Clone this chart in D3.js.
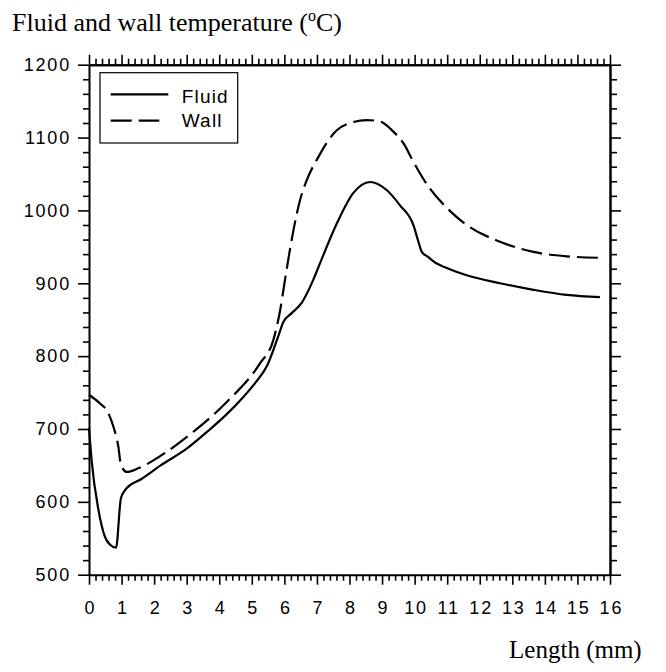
<!DOCTYPE html>
<html>
<head>
<meta charset="utf-8">
<script src="https://cdn.jsdelivr.net/npm/d3@7"></script>
<style>
  body { margin: 0; background: #fff; }
  svg { display: block; }
  .tick text { font-family: "Liberation Sans", Arial, sans-serif; font-size: 18px; letter-spacing: 1.8px; fill: #000; }
</style>
</head>
<body>
<div id="chart"></div>
<script>
// values
var fluidX = [0, 0.08, 0.29, 0.49, 0.65, 0.83, 0.98, 1.16, 1.6, 2.2, 3.0, 3.7, 4.2, 4.74, 5.1, 5.46,
    5.81, 5.97, 6.2, 6.53, 6.89, 7.09, 7.61, 8.12, 8.63, 9.14, 9.55, 9.96, 10.11, 10.22, 10.42,
    10.58, 11.1, 11.6, 12.62, 13.65, 14.67, 15.69];
var fluidY = [701, 657, 589, 552, 541, 537, 605, 619, 631, 650, 673, 699, 719, 744, 763, 786,
    827, 847, 858, 873, 905, 927, 982, 1024, 1039, 1028, 1007, 980, 958, 943, 936,
    930, 919, 911, 900, 891, 884, 881];

var wallX = [0, 0.34, 0.54, 0.75, 0.9, 0.98, 1.16, 1.51, 2.33, 3.2, 4.23, 5.25, 5.66, 5.87, 6.02,
    6.17, 6.48, 6.69, 6.99, 7.61, 8.02, 8.53, 8.94, 9.35, 9.66, 9.96, 10.42, 11.0, 11.6, 12.62,
    13.65, 14.67, 15.69];
var wallY = [747, 735, 726, 703, 676, 651, 641, 646, 667, 696, 737, 790, 822, 863, 905,
    946, 1014, 1042, 1069, 1110, 1120, 1124, 1122, 1108, 1092, 1067, 1033, 1003, 980, 957,
    943, 937, 935];

var xTicks = d3.range(0, 17, 1);
var yTicks = d3.range(500, 1300, 100);
var seriesNames = ["Fluid", "Wall"];

var width = 666;
var height = 672;

var svg = d3.select("#chart")
    .append("svg")
    .attr("width", width)
    .attr("height", height);

var x = d3.scaleLinear().domain([0, 16]).range([89, 610]);
var y = d3.scaleLinear().domain([500, 1200]).range([574.7, 64.7]);

var xMinor = d3.range(0, 16.001, 0.2).filter(function(d) { return Math.abs(d - Math.round(d)) > 1e-6 });
var yMinor = d3.range(500, 1201, 20).filter(function(d) { return d % 100 !== 0 });

function styleAxis(g) {
    g.select(".domain").attr("stroke", "#000").attr("stroke-width", 2);
    g.selectAll(".tick line").attr("stroke", "#000").attr("stroke-width", 1.6);
}

// bottom
svg.append("g").attr("transform", "translate(0," + y(500) + ")")
    .call(d3.axisBottom(x).tickValues(xMinor).tickSize(6).tickSizeOuter(0).tickFormat(""))
    .call(styleAxis);
svg.append("g").attr("transform", "translate(0," + y(500) + ")")
    .call(d3.axisBottom(x).tickValues(xTicks).tickSize(10).tickSizeOuter(0).tickPadding(17).tickFormat(d3.format("d")))
    .call(styleAxis)
    .call(function(g) { g.select(".domain").remove() })
    .selectAll("text").attr("dy", "0.71em").attr("dx", 0.9);

// top
svg.append("g").attr("transform", "translate(0," + y(1200) + ")")
    .call(d3.axisTop(x).tickValues(xMinor).tickSize(6).tickSizeOuter(0).tickFormat(""))
    .call(styleAxis);
svg.append("g").attr("transform", "translate(0," + y(1200) + ")")
    .call(d3.axisTop(x).tickValues(xTicks).tickSize(10).tickSizeOuter(0).tickFormat(""))
    .call(styleAxis);

// left
svg.append("g").attr("transform", "translate(" + x(0) + ",0)")
    .call(d3.axisLeft(y).tickValues(yMinor).tickSize(6).tickSizeOuter(0).tickFormat(""))
    .call(styleAxis);
svg.append("g").attr("transform", "translate(" + x(0) + ",0)")
    .call(d3.axisLeft(y).tickValues(yTicks).tickSize(11).tickSizeOuter(0).tickPadding(7).tickFormat(d3.format("d")))
    .call(styleAxis)
    .call(function(g) { g.select(".domain").remove() });

// right
svg.append("g").attr("transform", "translate(" + x(16) + ",0)")
    .call(d3.axisRight(y).tickValues(yMinor).tickSize(7).tickSizeOuter(0).tickFormat(""))
    .call(styleAxis);
svg.append("g").attr("transform", "translate(" + x(16) + ",0)")
    .call(d3.axisRight(y).tickValues(yTicks).tickSize(11).tickSizeOuter(0).tickFormat(""))
    .call(styleAxis);

// curves
var line = d3.line()
    .x(function(d) { return x(d[0]) })
    .y(function(d) { return y(d[1]) })
    .curve(d3.curveMonotoneX);

svg.append("path")
    .datum(d3.zip(fluidX, fluidY))
    .attr("d", line)
    .attr("fill", "none")
    .attr("stroke", "#000")
    .attr("stroke-width", 2.2);

svg.append("path")
    .datum(d3.zip(wallX, wallY))
    .attr("d", line)
    .attr("fill", "none")
    .attr("stroke", "#000")
    .attr("stroke-width", 2.2)
    .attr("stroke-dasharray", "21,7");

// legend
var legend = svg.append("g");
legend.append("rect")
    .attr("x", 100).attr("y", 72.7)
    .attr("width", 137.7).attr("height", 70.3)
    .attr("fill", "#fff").attr("stroke", "#000").attr("stroke-width", 1.2);
legend.append("line")
    .attr("x1", 110.7).attr("x2", 168.3).attr("y1", 94.3).attr("y2", 94.3)
    .attr("stroke", "#000").attr("stroke-width", 2.2);
legend.append("line")
    .attr("x1", 110.7).attr("x2", 159.3).attr("y1", 120.7).attr("y2", 120.7)
    .attr("stroke", "#000").attr("stroke-width", 2.2).attr("stroke-dasharray", "21,7");
legend.selectAll("text.lab").data(seriesNames)
    .enter().append("text")
    .attr("class", "lab")
    .attr("x", 181.7)
    .attr("y", function(d, i) { return 102.5 + i * 24.5 })
    .attr("font-family", "Liberation Sans, Arial, sans-serif")
    .attr("font-size", 19)
    .attr("letter-spacing", 1.2)
    .text(function(d) { return d });

// axis titles
var title = svg.append("text")
    .attr("x", 12).attr("y", 30.7)
    .attr("font-family", "Liberation Serif, Times New Roman, serif")
    .attr("font-size", 26);
title.append("tspan").text("Fluid and wall temperature (");
title.append("tspan").attr("font-size", 16).attr("dy", -10).text("o");
title.append("tspan").attr("dy", 10).text("C)");

svg.append("text")
    .attr("x", 641.7).attr("y", 658)
    .attr("text-anchor", "end")
    .attr("font-family", "Liberation Serif, Times New Roman, serif")
    .attr("font-size", 25)
    .text("Length (mm)");
</script>
</body>
</html>
